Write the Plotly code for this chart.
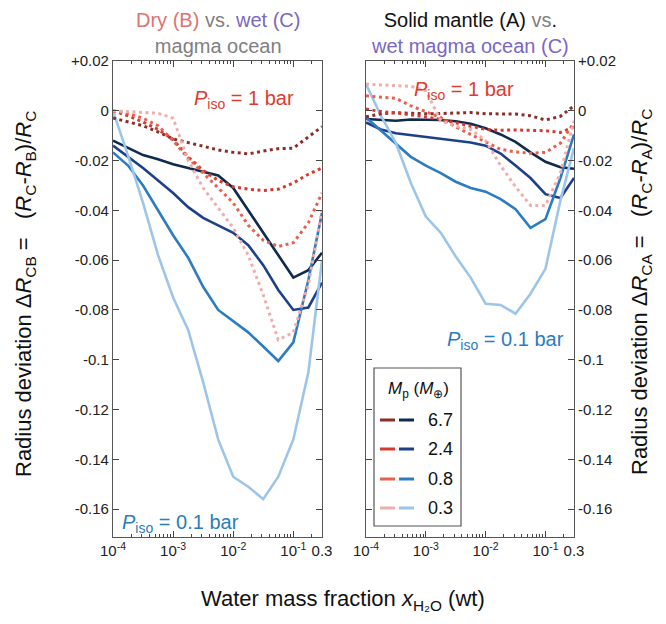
import plotly.graph_objects as go

# ---------------- data ----------------
x_wt = [1.0e-4, 1.78e-4, 3.16e-4, 5.62e-4, 1.0e-3, 1.78e-3, 3.16e-3, 5.62e-3,
        1.0e-2, 1.78e-2, 3.16e-2, 5.62e-2, 0.1, 0.178, 0.3]
masses = ["6.7", "2.4", "0.8", "0.3"]

# Left panel: dry (B) vs. wet (C) magma ocean, P_iso = 0.1 bar (solid)
cb_01bar = {
    "6.7": [-0.012, -0.015, -0.0178, -0.0195, -0.0215, -0.023, -0.0245, -0.026, -0.031, -0.040, -0.049, -0.058, -0.067, -0.064, -0.057],
    "2.4": [-0.014, -0.0185, -0.023, -0.028, -0.033, -0.0387, -0.043, -0.046, -0.049, -0.054, -0.062, -0.072, -0.080, -0.079, -0.069],
    "0.8": [-0.0167, -0.022, -0.030, -0.040, -0.050, -0.059, -0.0707, -0.080, -0.0845, -0.089, -0.0947, -0.1005, -0.093, -0.068, -0.041],
    "0.3": [0.0, -0.018, -0.037, -0.058, -0.075, -0.088, -0.109, -0.132, -0.147, -0.151, -0.156, -0.147, -0.132, -0.105, -0.060],
}
# Left panel, P_iso = 1 bar (dotted)
cb_1bar = {
    "6.7": [-0.0029, -0.0043, -0.006, -0.0085, -0.0113, -0.0128, -0.0143, -0.0157, -0.0167, -0.0173, -0.0162, -0.0152, -0.015, -0.0105, -0.0064],
    "2.4": [0.0, -0.002, -0.0045, -0.0075, -0.0115, -0.0185, -0.024, -0.028, -0.0305, -0.0315, -0.032, -0.0315, -0.029, -0.0255, -0.023],
    "0.8": [0.0, -0.001, -0.003, -0.006, -0.012, -0.019, -0.025, -0.031, -0.037, -0.046, -0.052, -0.0545, -0.053, -0.045, -0.033],
    "0.3": [0.0, -0.0003, -0.0005, -0.001, -0.003, -0.020, -0.031, -0.039, -0.047, -0.058, -0.074, -0.092, -0.089, -0.070, -0.040],
}
# Right panel: solid mantle (A) vs. wet magma ocean (C), P_iso = 0.1 bar (solid)
ca_01bar = {
    "6.7": [-0.0033, -0.0038, -0.004, -0.0035, -0.0036, -0.0037, -0.0042, -0.0052, -0.007, -0.0095, -0.0125, -0.0167, -0.0205, -0.0227, -0.0233],
    "2.4": [-0.0047, -0.0075, -0.009, -0.0097, -0.0105, -0.0112, -0.0119, -0.0127, -0.014, -0.0172, -0.022, -0.027, -0.0335, -0.035, -0.027],
    "0.8": [-0.0027, -0.008, -0.013, -0.0185, -0.022, -0.025, -0.0285, -0.031, -0.0325, -0.0355, -0.0395, -0.047, -0.0435, -0.027, -0.0095],
    "0.3": [0.0107, -0.002, -0.013, -0.029, -0.0425, -0.049, -0.0585, -0.067, -0.0775, -0.078, -0.0815, -0.0735, -0.0635, -0.036, -0.015],
}
# Right panel, P_iso = 1 bar (dotted)
ca_1bar = {
    "6.7": [-0.0024, -0.0012, -0.0008, -0.0011, -0.0012, -0.0011, -0.0008, -0.0007, -0.0012, -0.0013, -0.0013, -0.002, -0.0037, -0.0022, 0.002],
    "2.4": [0.0007, -0.0003, -0.0008, -0.0015, -0.0025, -0.0035, -0.005, -0.0062, -0.0075, -0.0078, -0.0077, -0.0078, -0.008, -0.0087, -0.0065],
    "0.8": [0.006, 0.0055, 0.005, 0.002, -0.0005, -0.0027, -0.0065, -0.0095, -0.0127, -0.0155, -0.0165, -0.0171, -0.0167, -0.013, -0.0047],
    "0.3": [0.0107, 0.0105, 0.0103, 0.0098, 0.008, -0.004, -0.0062, -0.0075, -0.012, -0.022, -0.0305, -0.038, -0.038, -0.025, -0.004],
}

x_tickvals = [1e-4, 1e-3, 1e-2, 1e-1, 0.3]
x_ticktext = ["10<sup>-4</sup>", "10<sup>-3</sup>", "10<sup>-2</sup>", "10<sup>-1</sup>", "0.3"]
y_tickvals = [0.02, 0.0, -0.02, -0.04, -0.06, -0.08, -0.1, -0.12, -0.14, -0.16]
y_ticktext = ["+0.02", "0", "-0.02", "-0.04", "-0.06", "-0.08", "-0.1", "-0.12", "-0.14", "-0.16"]

# ---------------- styles ----------------
red_colors = {"6.7": "#8B2E28", "2.4": "#D8392E", "0.8": "#E8604F", "0.3": "#F1ACAC"}
blue_colors = {"6.7": "#0E2A4D", "2.4": "#1E3F8A", "0.8": "#2B7CC1", "0.3": "#9DC5E9"}
FONT = "Liberation Sans, Arial, Helvetica, sans-serif"
OFF = 8                 # page body margin
W, H = 666 - 2 * OFF, 624 - 2 * OFF

fig = go.Figure()

for xa, ya, solid_d, dot_d in [("x", "y", cb_01bar, cb_1bar), ("x2", "y2", ca_01bar, ca_1bar)]:
    for m in masses:
        fig.add_trace(go.Scatter(x=x_wt, y=solid_d[m], mode="lines", xaxis=xa, yaxis=ya,
                                 line=dict(color=blue_colors[m], width=2.6), showlegend=False,
                                 hoverinfo="skip"))
    for m in masses:
        fig.add_trace(go.Scatter(x=x_wt, y=dot_d[m], mode="lines", xaxis=xa, yaxis=ya,
                                 line=dict(color=red_colors[m], width=3, dash="3px,3.5px"),
                                 showlegend=False, hoverinfo="skip"))

def px_x(p):
    return (p - OFF) / W

def px_y(p):
    return 1 - (p - OFF) / H

minor_vals = [k * 10 ** e for e in range(-4, 0) for k in range(2, 10) if k * 10 ** e < 0.3]

xaxis_common = dict(type="log", range=[-4, -0.5229], tickvals=x_tickvals, ticktext=x_ticktext,
                    ticks="inside", ticklen=6, tickwidth=1, tickcolor="#444",
                    showline=True, linecolor="#555", linewidth=1.2, mirror="ticks",
                    showgrid=False, zeroline=False, automargin=False,
                    minor=dict(tickvals=minor_vals, ticks="inside", ticklen=3, tickcolor="#444",
                               showgrid=False),
                    tickfont=dict(family=FONT, size=15, color="#222"))
yaxis_common = dict(range=[-0.1712, 0.02], tickvals=y_tickvals, ticktext=y_ticktext,
                    ticks="inside", ticklen=6, tickwidth=1, tickcolor="#444",
                    showline=True, linecolor="#555", linewidth=1.2, mirror="ticks",
                    showgrid=False, zeroline=False, automargin=False,
                    tickfont=dict(family=FONT, size=15, color="#222"))

fig.update_layout(
    template="none",
    width=W, height=H, margin=dict(l=0, r=0, t=0, b=0, pad=0),
    paper_bgcolor="white", plot_bgcolor="white",
    font=dict(family=FONT, color="#222"),
    xaxis=dict(xaxis_common, domain=[px_x(113), px_x(322)], anchor="y"),
    xaxis2=dict(xaxis_common, domain=[px_x(366), px_x(574)], anchor="y2"),
    yaxis=dict(yaxis_common, domain=[px_y(537), px_y(61)], anchor="x", side="left"),
    yaxis2=dict(yaxis_common, domain=[px_y(537), px_y(61)], anchor="x2", side="right"),
)

ann = []
def add_text(text, x, y, size, color="#222", angle=0, xanchor="center", yanchor="middle"):
    ann.append(dict(text=text, x=px_x(x), y=px_y(y), xref="paper", yref="paper",
                    showarrow=False, textangle=angle, xanchor=xanchor, yanchor=yanchor,
                    borderpad=0, font=dict(family=FONT, size=size, color=color)))

GRAY = "#808080"
PURPLE = "#7A68C2"
SALMON = "#E07272"
NB = "\u00a0"
add_text(f"<span style='color:{SALMON}'>Dry (B)</span> <span style='color:{GRAY}'>vs.</span> "
         f"<span style='color:{PURPLE}'>wet (C)</span><br><span style='color:{GRAY}'>magma ocean</span>",
         218, 8, 20, yanchor="top")
add_text(f"<span style='color:#111'>Solid mantle (A)</span> <span style='color:{GRAY}'>vs</span>"
         f"<span style='color:#111'>.</span><br><span style='color:{PURPLE}'>wet magma ocean (C)</span>",
         470, 8, 20, yanchor="top")

add_text("<i>P</i><sub>iso</sub> = 1 bar", 244, 99, 20, "#DD3B30")
add_text("<i>P</i><sub>iso</sub> = 1 bar", 464, 90, 20, "#DD3B30")
add_text("<i>P</i><sub>iso</sub> = 0.1 bar", 180, 523, 20, "#2B7CC1")
add_text("<i>P</i><sub>iso</sub> = 0.1 bar", 505, 340, 20, "#2B7CC1")

add_text(f"Radius deviation{NB}Δ<i>R</i><sub>CB</sub>{NB}={NB}{NB}{NB}(<i>R</i><sub>C</sub>-<i>R</i><sub>B</sub>)/<i>R</i><sub>C</sub>",
         25, 294, 22, "#111", angle=-90)
add_text(f"Radius deviation{NB}Δ<i>R</i><sub>CA</sub>{NB}={NB}{NB}{NB}(<i>R</i><sub>C</sub>-<i>R</i><sub>A</sub>)/<i>R</i><sub>C</sub>",
         641, 292, 22, "#111", angle=-90)
add_text("Water mass fraction <i>x</i><sub>H₂O</sub> (wt)", 343, 615, 22, "#111", yanchor="bottom")

# legend
add_text("<i>M</i><sub>p</sub> (<i>M</i><sub>⊕</sub>)", 418, 390, 17, "#111")
legend_y = [420, 449, 479, 508]
shapes = [dict(type="rect", xref="paper", yref="paper", x0=px_x(374), x1=px_x(461),
               y0=px_y(526), y1=px_y(368), line=dict(color="#555", width=1.2),
               fillcolor="white", layer="above")]
for m, ly in zip(masses, legend_y):
    shapes.append(dict(type="line", xref="paper", yref="paper", x0=px_x(380), x1=px_x(395),
                       y0=px_y(ly), y1=px_y(ly), line=dict(color=red_colors[m], width=3), layer="above"))
    shapes.append(dict(type="line", xref="paper", yref="paper", x0=px_x(399), x1=px_x(414),
                       y0=px_y(ly), y1=px_y(ly), line=dict(color=blue_colors[m], width=3), layer="above"))
    add_text(m, 427, ly, 18, "#111", xanchor="left")

fig.update_layout(annotations=ann, shapes=shapes)
fig.write_html("out.html")
